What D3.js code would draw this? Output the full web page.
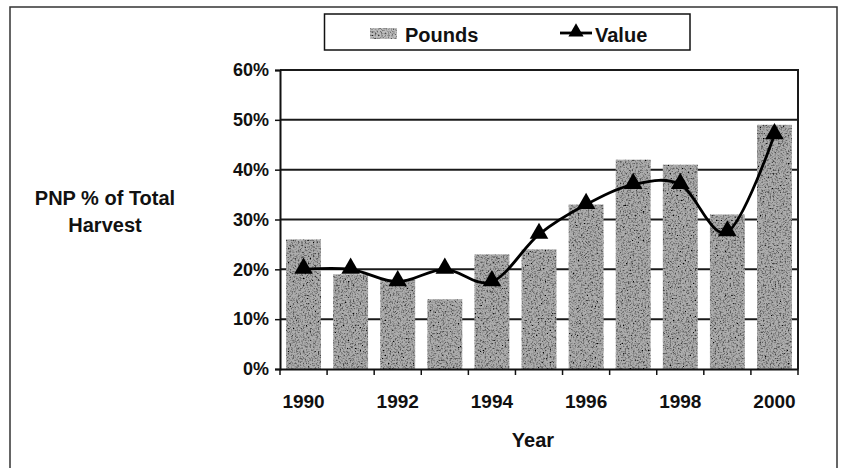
<!DOCTYPE html>
<html>
<head>
<meta charset="utf-8">
<script src="https://cdn.jsdelivr.net/npm/d3@7"></script>
<style>
  html, body { margin: 0; padding: 0; background: #fff; }
  svg { display: block; }
  text { font-family: "Liberation Sans", Arial, sans-serif; font-weight: bold; fill: #111; }
</style>
</head>
<body>
<svg id="chart" width="844" height="468"></svg>
<script>
// ---- data ----
const years = [1990, 1991, 1992, 1993, 1994, 1995, 1996, 1997, 1998, 1999, 2000];
const pounds = [0.26, 0.19, 0.18, 0.14, 0.23, 0.24, 0.33, 0.42, 0.41, 0.31, 0.49];
const value  = [0.20, 0.20, 0.175, 0.20, 0.175, 0.27, 0.33, 0.37, 0.37, 0.275, 0.47];
const yTicks = [0, 0.1, 0.2, 0.3, 0.4, 0.5, 0.6];
const xTickLabels = [1990, 1992, 1994, 1996, 1998, 2000];
const seriesNames = ["Pounds", "Value"];
const yTitle = ["PNP % of Total", "Harvest"];
const xTitle = "Year";

// ---- layout ----
const plot = { left: 280, right: 798, top: 70, bottom: 369 };

const svg = d3.select("#chart");
const defs = svg.append("defs");
const f = defs.append("filter").attr("id", "speckle")
  .attr("x", 0).attr("y", 0).attr("width", "100%").attr("height", "100%");
f.append("feTurbulence").attr("type", "fractalNoise").attr("baseFrequency", 0.6)
  .attr("numOctaves", 3).attr("seed", 5).attr("result", "noise");
f.append("feColorMatrix").attr("in", "noise").attr("type", "matrix")
  .attr("values", "0 0 0 0 0  0 0 0 0 0  0 0 0 0 0  -2.6 0 0 0 1.45").attr("result", "dark");
f.append("feComposite").attr("in", "dark").attr("in2", "SourceGraphic")
  .attr("operator", "in").attr("result", "clip");
const fm = f.append("feMerge");
fm.append("feMergeNode").attr("in", "SourceGraphic");
fm.append("feMergeNode").attr("in", "clip");

// outer frame
svg.append("rect").attr("x", 10).attr("y", 7).attr("width", 827).attr("height", 480)
  .attr("fill", "none").attr("stroke", "#333").attr("stroke-width", 1.5);

const x = d3.scaleBand().domain(years).range([plot.left, plot.right])
  .paddingInner(0.26).paddingOuter(0.13);
const y = d3.scaleLinear().domain([0, 0.6]).range([plot.bottom, plot.top]);

// gridlines
svg.append("g").selectAll("line").data(yTicks.filter(d => d > 0 && d < 0.6)).join("line")
  .attr("x1", plot.left).attr("x2", plot.right)
  .attr("y1", d => y(d)).attr("y2", d => y(d))
  .attr("stroke", "#1a1a1a").attr("stroke-width", 2);

// bars
svg.append("g").selectAll("rect").data(years).join("rect")
  .attr("x", d => x(d))
  .attr("width", x.bandwidth())
  .attr("y", (d, i) => y(pounds[i]))
  .attr("height", (d, i) => y(0) - y(pounds[i]))
  .attr("fill", "#adadad")
  .attr("filter", "url(#speckle)");

// plot frame: top and right
svg.append("line").attr("x1", plot.left).attr("x2", plot.right + 1)
  .attr("y1", y(0.6)).attr("y2", y(0.6)).attr("stroke", "#1a1a1a").attr("stroke-width", 2);
svg.append("line").attr("x1", plot.right).attr("x2", plot.right)
  .attr("y1", y(0.6)).attr("y2", y(0)).attr("stroke", "#1a1a1a").attr("stroke-width", 2);

// y axis
const yAxis = d3.axisLeft(y).tickValues(yTicks).tickFormat(d3.format(".0%"))
  .tickSize(5).tickPadding(6);
const gy = svg.append("g").attr("transform", `translate(${plot.left},0)`).call(yAxis);
gy.select(".domain").attr("stroke", "#111").attr("stroke-width", 2);
gy.selectAll(".tick line").attr("stroke", "#111").attr("stroke-width", 1.5);
gy.selectAll(".tick text").style("font-size", "18px").style("font-family", "Liberation Sans, Arial, sans-serif")
  .style("font-weight", "bold").attr("fill", "#111");

// x axis
const xAxis = d3.axisBottom(x).tickValues(xTickLabels).tickSize(0).tickSizeOuter(0).tickPadding(26);
const gx = svg.append("g").attr("transform", `translate(0,${plot.bottom})`).call(xAxis);
gx.select(".domain").attr("stroke", "#111").attr("stroke-width", 2);
gx.selectAll(".tick text").style("font-size", "19px").style("font-family", "Liberation Sans, Arial, sans-serif")
  .style("font-weight", "bold").attr("fill", "#111");
// boundary tick marks
const gap = (x.step() - x.bandwidth()) / 2;
const bounds = years.map(d => x(d) - gap).concat([x(years[years.length - 1]) + x.bandwidth() + gap]);
svg.append("g").selectAll("line").data(bounds).join("line")
  .attr("x1", d => d).attr("x2", d => d)
  .attr("y1", plot.bottom).attr("y2", plot.bottom + 6)
  .attr("stroke", "#111").attr("stroke-width", 1.5);

// value line
const pts = years.map((d, i) => [x(d) + x.bandwidth() / 2, y(value[i])]);
svg.append("path").datum(pts)
  .attr("d", d3.line().curve(d3.curveCardinal.tension(0)))
  .attr("fill", "none").attr("stroke", "#000").attr("stroke-width", 2.8);
const tri = d3.symbol().type(d3.symbolTriangle).size(150);
svg.append("g").selectAll("path").data(pts).join("path")
  .attr("transform", d => `translate(${d[0]},${d[1] - 1})`)
  .attr("d", tri).attr("fill", "#000");

// axis titles
svg.append("text").attr("x", 105).attr("y", 205).attr("text-anchor", "middle")
  .style("font-size", "20px").text(yTitle[0]);
svg.append("text").attr("x", 105).attr("y", 232).attr("text-anchor", "middle")
  .style("font-size", "20px").text(yTitle[1]);
svg.append("text").attr("x", 533).attr("y", 447).attr("text-anchor", "middle")
  .style("font-size", "20px").text(xTitle);

// legend
const lg = svg.append("g");
lg.append("rect").attr("x", 324.5).attr("y", 14).attr("width", 365.5).attr("height", 36)
  .attr("fill", "#fff").attr("stroke", "#111").attr("stroke-width", 1.5);
lg.append("rect").attr("x", 370).attr("y", 28).attr("width", 27).attr("height", 11)
  .attr("fill", "#bdbdbd").attr("filter", "url(#speckle)");
lg.append("text").attr("x", 405).attr("y", 42).style("font-size", "20px").text(seriesNames[0]);
lg.append("line").attr("x1", 560).attr("x2", 592).attr("y1", 33).attr("y2", 33)
  .attr("stroke", "#000").attr("stroke-width", 2.8);
lg.append("path").attr("transform", "translate(576,32)")
  .attr("d", d3.symbol().type(d3.symbolTriangle).size(100)).attr("fill", "#000");
lg.append("text").attr("x", 595).attr("y", 42).style("font-size", "20px").text(seriesNames[1]);
</script>
</body>
</html>
